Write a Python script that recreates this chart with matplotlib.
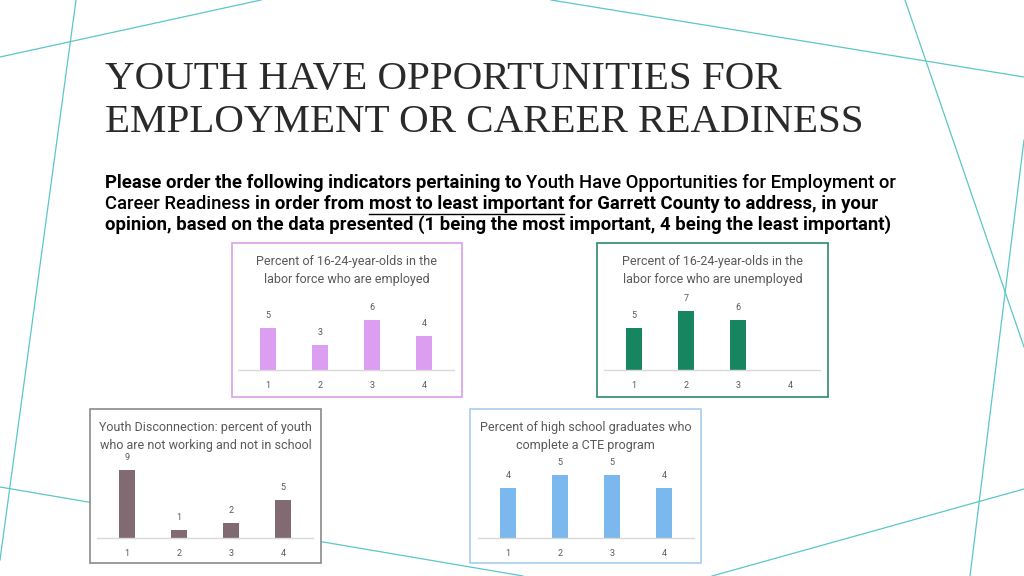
import matplotlib
matplotlib.use("Agg")
import matplotlib.pyplot as plt
from matplotlib.patches import Rectangle
from matplotlib.lines import Line2D

W, H = 1024, 576
ranks = [1, 2, 3, 4]
employed = [5, 3, 6, 4]
unemployed = [5, 7, 6, 0]
disconnected = [9, 1, 2, 5]
cte = [4, 5, 5, 4]

titles = ["Percent of 16-24-year-olds in the\nlabor force who are employed",
          "Percent of 16-24-year-olds in the\nlabor force who are unemployed",
          "Youth Disconnection: percent of youth\nwho are not working and not in school",
          "Percent of high school graduates who\ncomplete a CTE program"]

fig = plt.figure(figsize=(W/100, H/100), dpi=100)
fig.patch.set_facecolor("white")

def fx(x): return x / W
def fy(y): return 1 - y / H

teal = "#5cc6c9"
for (x0, y0, x1, y1) in [(0, 57, 261, 0), (76, 0, 0, 560), (551, 0, 1024, 77),
                         (905, 0, 1024, 347), (1024, 140, 970, 576),
                         (1024, 489, 712, 576), (0, 487, 523, 576)]:
    fig.add_artist(Line2D([fx(x0), fx(x1)], [fy(y0), fy(y1)], color=teal, lw=0.9,
                          transform=fig.transFigure, zorder=0))

fig.text(fx(105), fy(101), "YOUTH HAVE OPPORTUNITIES FOR\nEMPLOYMENT OR CAREER READINESS",
         fontfamily="Liberation Serif", fontsize=29.5, color="#2a2a2a", va="center",
         ha="left", linespacing=1.2)

lines = [[("Please order the following indicators pertaining to ", "bold", False),
          ("Youth Have Opportunities for Employment or", "medium", False)],
         [("Career Readiness ", "medium", False), ("in order from ", "bold", False),
          ("most to least important", "bold", True),
          (" for Garrett County to address, in your", "bold", False)],
         [("opinion, based on the data presented (1 being the most important, 4 being the least important)", "bold", False)]]
fig.canvas.draw()
r = fig.canvas.get_renderer()
for i, line in enumerate(lines):
    x = 105
    y = 183 + i * 21
    for txt, wt, ul in line:
        t = fig.text(fx(x), fy(y), txt, fontfamily="Roboto",
                     fontsize=13.3, fontweight=wt, color="black", va="center", ha="left")
        w = t.get_window_extent(renderer=r).width
        if ul:
            fig.add_artist(Line2D([fx(x), fx(x + w)], [fy(y + 10), fy(y + 10)], color="black",
                                  lw=1, transform=fig.transFigure))
        x += w

panels = [
    (232, 243, 462, 397, "#d99ee9", employed, "#dc9ef0", 370, 8.4, 268),
    (597, 243, 828, 397, "#2d8a6c", unemployed, "#178660", 370, 8.4, 634),
    (90, 409, 321, 563, "#8a8a8a", disconnected, "#816a72", 538, 7.6, 127),
    (470, 409, 701, 563, "#a9cdee", cte, "#7ab8ee", 538, 12.6, 508),
]
for k, (x0, y0, x1, y1, bc, vals, fc, base, ppu, c1) in enumerate(panels):
    fig.add_artist(Rectangle((fx(x0), fy(y1)), fx(x1 - x0), (y1 - y0) / H, facecolor="white",
                             edgecolor=bc, lw=1.2, transform=fig.transFigure, zorder=1))
    fig.text(fx((x0 + x1) / 2), fy(y0 + 28), titles[k], fontfamily="Roboto",
             fontsize=9, color="#595959", ha="center", va="center", linespacing=1.5,
             zorder=3)
    top = y0 + 55
    left = c1 - 26
    ax = fig.add_axes([fx(left), fy(base), fx(208), (base - top) / H])
    ax.set_zorder(2)
    ax.patch.set_visible(False)
    ax.set_xlim(0.5, 4.5)
    ax.set_ylim(0, (base - top) / ppu)
    ax.bar(ranks, vals, width=0.31, color=fc)
    for rr, v in zip(ranks, vals):
        if v:
            ax.text(rr, v + 8 / ppu, str(v), ha="center", va="bottom", fontsize=6.5,
                    color="#595959", fontfamily="Roboto")
    ax.axis("off")
    ax.axhline(0, color="#d9d9d9", lw=1, xmin=-0.02, xmax=1.02, clip_on=False)
    for rr in ranks:
        fig.text(fx(c1 + (rr - 1) * 52), fy(base + 15), str(rr), ha="center", va="center",
                 fontsize=6.5, color="#595959", fontfamily="Roboto", zorder=3)

fig.savefig("out.png", dpi=100)
